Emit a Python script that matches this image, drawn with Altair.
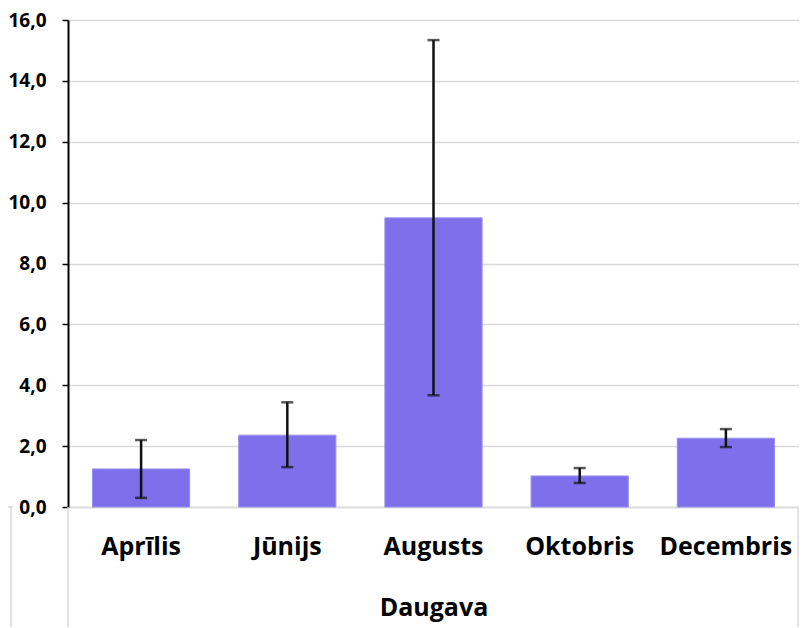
import altair as alt
import pandas as pd

months = ["Aprīlis", "Jūnijs", "Augusts", "Oktobris", "Decembris"]
values = [1.25, 2.36, 9.50, 1.02, 2.26]
err_low = [0.30, 1.31, 3.67, 0.79, 1.97]
err_high = [2.20, 3.44, 15.34, 1.28, 2.56]

df = pd.DataFrame({"month": months, "value": values, "lo": err_low, "hi": err_high})

FONT = "Open Sans"
W, H = 731, 487

xscale = alt.Scale(domain=months, paddingInner=0.335, paddingOuter=0.1675)
yscale = alt.Scale(domain=[0, 16], nice=False)

xenc = alt.X("month:N", scale=xscale, sort=months,
             axis=alt.Axis(title="Daugava", labelAngle=0, ticks=False, tickSize=0,
                           labelPadding=27, labelFontSize=25, labelFontWeight="bold",
                           labelFont=FONT, labelColor="#000000",
                           titleFont=FONT, titleFontSize=25, titleFontWeight="bold",
                           titleColor="#000000", titlePadding=36,
                           domain=True, domainColor="#d9d9d9", domainWidth=1.5,
                           grid=False))

bars = alt.Chart(df).mark_bar(color="#7F6FEA", stroke="#9a8ef0", strokeWidth=1).encode(
    x=xenc,
    y=alt.Y("value:Q", scale=yscale,
            axis=alt.Axis(title=None, values=[0, 2, 4, 6, 8, 10, 12, 14, 16],
                          labelExpr="replace(format(datum.value, '.1f'), '.', ',')",
                          labelFont=FONT, labelFontSize=19, labelFontWeight="bold",
                          labelColor="#000000", labelPadding=16,
                          tickColor="#000000", tickSize=6, tickWidth=1.5,
                          domainColor="#000000", domainWidth=2,
                          gridColor="#d9d9d9", gridWidth=1.5)),
)

rules = alt.Chart(df).mark_rule(color="#111111", strokeWidth=2.5).encode(
    x=alt.X("month:N", scale=xscale, sort=months),
    y=alt.Y("lo:Q", scale=yscale),
    y2="hi:Q",
)

caps_hi = alt.Chart(df).mark_tick(color="#111111", thickness=2.5, size=12).encode(
    x=alt.X("month:N", scale=xscale, sort=months),
    y=alt.Y("hi:Q", scale=yscale),
)
caps_lo = alt.Chart(df).mark_tick(color="#111111", thickness=2.5, size=12).encode(
    x=alt.X("month:N", scale=xscale, sort=months),
    y=alt.Y("lo:Q", scale=yscale),
)

# category box lines below the plot (Excel multi-level axis frame)
box_df = pd.DataFrame({"k": [0]})
left_line = alt.Chart(box_df).mark_rule(color="#d9d9d9", strokeWidth=1.5).encode(
    x=alt.value(0), y=alt.value(H), y2=alt.value(H + 125))
right_line = alt.Chart(box_df).mark_rule(color="#d9d9d9", strokeWidth=1.5).encode(
    x=alt.value(W - 1), y=alt.value(H), y2=alt.value(H + 125))
far_left = alt.Chart(box_df).mark_rule(color="#d9d9d9", strokeWidth=1.5).encode(
    x=alt.value(-57), y=alt.value(H), y2=alt.value(H + 125))
far_left_h = alt.Chart(box_df).mark_rule(color="#d9d9d9", strokeWidth=1.5).encode(
    x=alt.value(-60), x2=alt.value(-55), y=alt.value(H))

chart = alt.layer(bars, rules, caps_hi, caps_lo, left_line, right_line, far_left, far_left_h).properties(
    width=W, height=H,
    autosize=alt.AutoSizeParams(type="none"),
    padding={"left": 60, "top": 12, "right": 0, "bottom": 120},
).configure_view(stroke=None).configure(background="#ffffff")

chart.save("out.html", embed_options={"renderer": "svg", "actions": False})
